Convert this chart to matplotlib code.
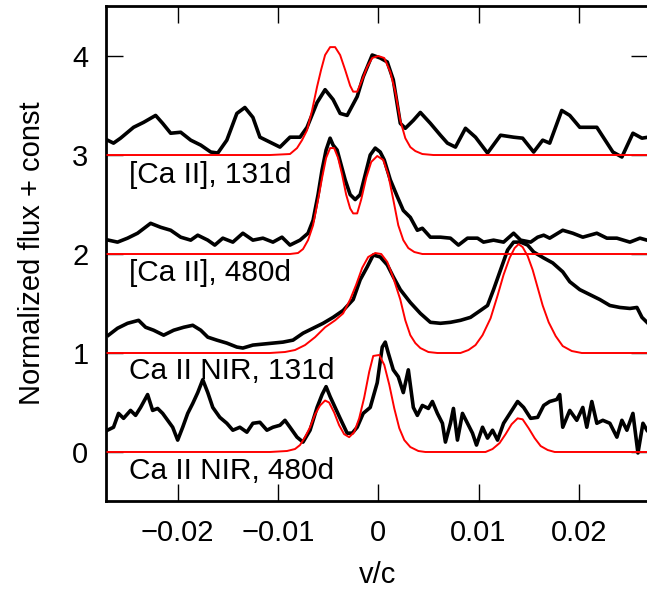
import numpy as np
import matplotlib
matplotlib.use('Agg')
import matplotlib.pyplot as plt

plt.rcParams['font.family'] = ['Liberation Sans', 'DejaVu Sans']

# velocities in units of 1e-3 c, flux without the offset

# [Ca II], 131d
v_ca131 = [-27.0, -26.4, -25.7, -24.4, -23.4, -22.2, -21.5, -20.7, -19.7, -18.7,
           -17.7, -16.7, -16.0, -15.1, -14.1, -13.3, -12.5, -11.8, -10.8, -9.8,
           -8.8, -7.8, -7.1, -6.1, -5.3, -4.5, -3.8, -3.1, -2.1, -1.5,
           -0.6, 0.2, 0.9, 1.5, 2.2, 2.7, 3.5, 4.2, 5.2, 6.2,
           6.9, 7.7, 8.7, 9.7, 10.9, 12.2, 13.5, 14.4, 15.5, 16.4,
           17.1, 18.3, 19.1, 20.1, 21.8, 23.4, 24.3, 25.4, 26.3, 26.9]
f_ca131 = [0.15, 0.12, 0.17, 0.28, 0.33, 0.40, 0.32, 0.22, 0.23, 0.15,
           0.10, 0.03, 0.02, 0.15, 0.42, 0.48, 0.38, 0.18, 0.13, 0.08,
           0.18, 0.18, 0.28, 0.53, 0.66, 0.56, 0.42, 0.40, 0.59, 0.79,
           1.01, 0.98, 0.94, 0.76, 0.32, 0.27, 0.35, 0.43, 0.32, 0.20,
           0.12, 0.08, 0.27, 0.18, 0.02, 0.20, 0.18, 0.17, 0.03, 0.15,
           0.12, 0.45, 0.40, 0.28, 0.28, 0.03, -0.02, 0.22, 0.17, 0.18]
vfit_ca131 = [-27.0, -10.8, -8.8, -8.1, -7.6, -7.1, -6.6, -6.1, -5.7, -5.3,
              -4.8, -4.3, -3.8, -3.3, -2.8, -2.5, -2.1, -1.6, -1.1, -0.6,
              0.0, 0.6, 1.2, 1.7, 2.2, 2.7, 3.2, 3.7, 4.4, 5.5, 26.9]
ffit_ca131 = [0.0, 0.0, 0.01, 0.07, 0.15, 0.25, 0.45, 0.69, 0.86, 1.01,
              1.09, 1.09, 1.01, 0.86, 0.70, 0.64, 0.64, 0.76, 0.89, 0.98,
              1.00, 0.98, 0.84, 0.64, 0.35, 0.17, 0.08, 0.04, 0.01, 0.0, 0.0]

# [Ca II], 480d
v_ca480 = [-26.9, -26.0, -25.0, -24.0, -22.7, -21.7, -20.7, -19.7, -18.7, -18.0,
           -17.0, -16.3, -15.5, -14.5, -13.5, -12.5, -11.5, -10.5, -9.6, -8.8,
           -7.8, -7.0, -6.5, -6.0, -5.6, -5.2, -4.8, -4.5, -4.1, -3.7,
           -3.3, -2.8, -2.3, -1.8, -1.3, -0.8, -0.3, 0.2, 0.6, 1.2,
           1.9, 2.5, 3.2, 3.9, 4.4, 5.2, 6.2, 7.2, 8.0, 8.9,
           9.9, 10.5, 11.5, 12.5, 13.5, 14.2, 15.2, 15.9, 16.5, 17.1,
           18.4, 19.4, 20.4, 21.8, 22.8, 23.8, 25.1, 26.1, 26.8]
f_ca480 = [0.14, 0.12, 0.16, 0.21, 0.31, 0.27, 0.24, 0.17, 0.14, 0.19,
           0.14, 0.09, 0.16, 0.12, 0.21, 0.14, 0.16, 0.12, 0.17, 0.09,
           0.14, 0.21, 0.34, 0.60, 0.85, 1.05, 1.17, 1.10, 1.05, 0.90,
           0.75, 0.60, 0.55, 0.60, 0.80, 1.00, 1.07, 1.03, 0.95, 0.75,
           0.58, 0.44, 0.37, 0.24, 0.26, 0.17, 0.17, 0.16, 0.09, 0.16,
           0.16, 0.12, 0.14, 0.12, 0.21, 0.14, 0.12, 0.17, 0.19, 0.16,
           0.24, 0.21, 0.17, 0.21, 0.16, 0.16, 0.12, 0.16, 0.14]
vfit_ca480 = [-27.0, -8.8, -8.0, -7.5, -7.0, -6.5, -6.0, -5.6, -5.2, -4.8,
              -4.4, -4.0, -3.6, -3.2, -2.8, -2.5, -2.1, -1.7, -1.2, -0.7,
              -0.1, 0.5, 1.0, 1.5, 2.0, 2.5, 3.0, 3.6, 4.4, 26.9]
ffit_ca480 = [0.0, 0.0, 0.01, 0.05, 0.14, 0.29, 0.55, 0.77, 0.97, 1.07,
              1.07, 0.97, 0.80, 0.60, 0.46, 0.41, 0.41, 0.55, 0.77, 0.93,
              0.99, 0.95, 0.80, 0.55, 0.29, 0.14, 0.06, 0.02, 0.0, 0.0]

# Ca II NIR, 131d
v_nir131 = [-26.9, -26.0, -25.0, -23.9, -23.2, -22.4, -21.4, -20.4, -19.4, -18.5,
            -17.7, -17.0, -16.1, -15.1, -14.1, -13.5, -12.5, -11.5, -10.5, -9.5,
            -8.5, -7.5, -6.5, -5.5, -4.5, -3.5, -2.5, -1.8, -1.1, -0.5,
            0.2, 0.9, 1.5, 2.2, 3.2, 4.2, 5.2, 6.2, 7.2, 8.2,
            9.2, 10.2, 10.9, 11.5, 12.2, 12.9, 13.5, 14.2, 14.9, 15.5,
            16.5, 17.4, 18.4, 19.1, 20.1, 21.1, 22.1, 23.1, 24.1, 25.1,
            25.8, 26.3, 26.8]
f_nir131 = [0.18, 0.25, 0.30, 0.33, 0.26, 0.23, 0.18, 0.23, 0.26, 0.28,
            0.23, 0.16, 0.13, 0.10, 0.06, 0.05, 0.08, 0.09, 0.10, 0.11,
            0.13, 0.20, 0.25, 0.30, 0.36, 0.43, 0.54, 0.74, 0.87, 0.99,
            0.97, 0.89, 0.77, 0.64, 0.51, 0.40, 0.31, 0.30, 0.31, 0.33,
            0.36, 0.43, 0.48, 0.64, 0.84, 1.04, 1.12, 1.12, 1.09, 1.02,
            0.96, 0.91, 0.82, 0.72, 0.64, 0.59, 0.54, 0.48, 0.46, 0.45,
            0.46, 0.36, 0.31]
vfit_nir131 = [-27.0, -10.8, -9.3, -8.3, -7.3, -6.3, -5.3, -4.3, -3.5, -2.8,
               -2.2, -1.6, -1.0, -0.3, 0.3, 0.9, 1.5, 2.2, 2.7, 3.2,
               3.7, 4.2, 5.0, 5.9, 8.2, 9.0, 9.7, 10.4, 11.2, 11.9,
               12.5, 13.1, 13.6, 14.0, 14.4, 14.9, 15.4, 15.9, 16.4, 17.0,
               17.7, 18.4, 19.3, 20.3, 26.9]
ffit_nir131 = [0.0, 0.0, 0.01, 0.03, 0.08, 0.16, 0.26, 0.33, 0.40, 0.54,
               0.69, 0.86, 0.97, 1.01, 1.00, 0.92, 0.76, 0.54, 0.33, 0.18,
               0.10, 0.05, 0.01, 0.0, 0.0, 0.03, 0.08, 0.18, 0.35, 0.58,
               0.79, 0.96, 1.06, 1.10, 1.07, 0.98, 0.84, 0.66, 0.48, 0.31,
               0.17, 0.07, 0.02, 0.0, 0.0]

# Ca II NIR, 480d
v_nir480 = [-27.0, -26.4, -25.9, -25.4, -24.7, -24.2, -23.7, -23.0, -22.5, -22.0,
            -21.5, -21.0, -20.5, -20.0, -19.5, -19.0, -18.5, -18.0, -17.5, -17.0,
            -16.5, -15.8, -15.1, -14.5, -13.8, -13.1, -12.5, -11.8, -11.1, -10.5,
            -9.8, -9.3, -8.8, -8.1, -7.5, -6.8, -6.1, -5.6, -5.2, -4.8,
            -4.3, -3.8, -3.1, -2.6, -2.1, -1.5, -0.8, -0.1, 0.4, 0.7,
            1.0, 1.5, 2.0, 2.5, 3.0, 3.5, 3.9, 4.4, 5.0, 5.4,
            5.9, 6.4, 6.7, 7.2, 7.5, 7.9, 8.4, 8.9, 9.4, 9.8,
            10.4, 10.9, 11.4, 11.9, 12.5, 13.2, 13.9, 14.5, 15.2, 15.9,
            16.5, 17.1, 17.8, 18.1, 18.4, 19.1, 19.8, 20.4, 20.8, 21.3,
            21.8, 22.4, 23.1, 23.8, 24.3, 24.8, 25.4, 25.9, 26.4, 26.8]
f_nir480 = [0.22, 0.25, 0.39, 0.34, 0.42, 0.37, 0.45, 0.58, 0.42, 0.44,
            0.39, 0.32, 0.25, 0.12, 0.25, 0.39, 0.49, 0.60, 0.73, 0.60,
            0.45, 0.35, 0.29, 0.22, 0.25, 0.20, 0.29, 0.30, 0.22, 0.25,
            0.27, 0.32, 0.25, 0.15, 0.10, 0.22, 0.45, 0.58, 0.66, 0.56,
            0.45, 0.34, 0.19, 0.19, 0.25, 0.39, 0.45, 0.70, 1.06, 1.11,
            1.00, 0.83, 0.76, 0.60, 0.83, 0.45, 0.37, 0.47, 0.44, 0.51,
            0.39, 0.29, 0.10, 0.29, 0.44, 0.12, 0.39, 0.29, 0.19, 0.07,
            0.25, 0.14, 0.22, 0.12, 0.29, 0.40, 0.51, 0.45, 0.34, 0.35,
            0.47, 0.51, 0.53, 0.58, 0.25, 0.42, 0.32, 0.45, 0.25, 0.51,
            0.29, 0.32, 0.29, 0.15, 0.32, 0.22, 0.39, -0.01, 0.29, 0.22]
vfit_nir480 = [-27.0, -10.8, -9.1, -8.3, -7.8, -7.3, -6.8, -6.3, -5.8, -5.3,
               -4.9, -4.4, -3.9, -3.4, -2.9, -2.4, -1.9, -1.4, -0.9, -0.5,
               0.1, 0.6, 1.1, 1.6, 2.1, 2.6, 3.2, 4.0, 4.7, 10.7,
               11.4, 12.1, 12.7, 13.3, 13.9, 14.4, 15.0, 15.6, 16.2, 16.9,
               17.6, 26.9]
ffit_nir480 = [0.0, 0.0, 0.01, 0.03, 0.07, 0.15, 0.25, 0.38, 0.47, 0.52,
               0.50, 0.40, 0.27, 0.18, 0.15, 0.20, 0.34, 0.55, 0.81, 0.97,
               0.98, 0.88, 0.68, 0.44, 0.24, 0.12, 0.05, 0.01, 0.0, 0.0,
               0.03, 0.09, 0.18, 0.28, 0.34, 0.33, 0.24, 0.14, 0.06, 0.02,
               0.0, 0.0]

offsets = [3, 2, 1, 0]
labels = ['[Ca II], 131d', '[Ca II], 480d', 'Ca II NIR, 131d', 'Ca II NIR, 480d']
label_y = [2.80, 1.81, 0.82, -0.19]

spectra = [(v_ca131, f_ca131, vfit_ca131, ffit_ca131),
           (v_ca480, f_ca480, vfit_ca480, ffit_ca480),
           (v_nir131, f_nir131, vfit_nir131, ffit_nir131),
           (v_nir480, f_nir480, vfit_nir480, ffit_nir480)]

fig = plt.figure(figsize=(6.47, 5.91), dpi=100)
ax = fig.add_axes([0.1646, 0.1523, 0.8369, 0.8375])

for (v, f, vf, ff), off in zip(spectra, offsets):
    ax.plot(np.array(v) * 1e-3, np.array(f) + off, color='black', lw=2.6,
            solid_joinstyle='round', zorder=2)
    ax.plot(np.array(vf) * 1e-3, np.array(ff) + off, color='red', lw=1.4, zorder=3)

for lab, ly in zip(labels, label_y):
    ax.text(-0.0249, ly, lab, fontsize=21.5, ha='left', va='center')

ax.set_xlim(-0.0271, 0.0269)
ax.set_ylim(-0.495, 4.505)
ax.set_xticks([-0.02, -0.01, 0, 0.01, 0.02])
ax.set_xticklabels(['\u22120.02', '\u22120.01', '0', '0.01', '0.02'])
ax.set_yticks([0, 1, 2, 3, 4])
ax.tick_params(direction='in', length=12, width=1, top=True, right=True,
               labelsize=21)
ax.tick_params(axis='x', pad=13)
ax.tick_params(axis='y', pad=13)
for s in ax.spines.values():
    s.set_linewidth(2)

ax.set_xlabel('v/c', fontsize=21, labelpad=10)
ax.set_ylabel('Normalized flux + const', fontsize=21, labelpad=19)

fig.savefig('out.png', dpi=100)
